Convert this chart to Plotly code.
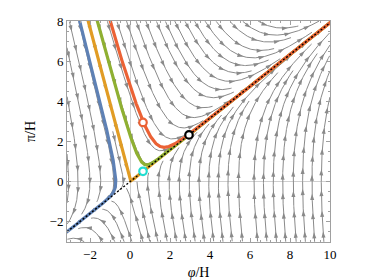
import math
import numpy as np
import plotly.graph_objects as go

# ---------------- data ----------------
PHI_RANGE = [-3.15, 10.0]
PI_RANGE = [-3.0, 8.0]
X_TICKS = [-2, 0, 2, 4, 6, 8, 10]
X_LABELS = ["\u22122", "0", "2", "4", "6", "8", "10"]
Y_TICKS = [-2, 0, 2, 4, 6, 8]
Y_LABELS = ["\u22122", "0", "2", "4", "6", "8"]

# linear flow: dphi/dN = a*phi + b*pi ; dpi/dN = c*phi + d*pi
DPHI_COEF = [0.0, 1.0]
DPI_COEF = [3.0, -3.0]

# highlighted trajectories (start points)
TRAJ_PHI0 = [-2.5, -2.1, -1.65, -1.0]
TRAJ_PI0 = [8.0, 8.0, 8.0, 8.0]
TRAJ_COLORS = ["#5E81B5", "#E19C24", "#8FB032", "#EB6235"]

# marked points
MARK_PHI = [0.65, 2.95, 0.65]
MARK_PI = [2.95, 2.33, 0.52]
MARK_COLORS = ["#EB6235", "#000000", "#22DDD0"]

GRAY = "#8a8a8a"
SERIF = "Liberation Serif"


def vel(x, y):
    return (DPHI_COEF[0] * x + DPHI_COEF[1] * y,
            DPI_COEF[0] * x + DPI_COEF[1] * y)


# ---------------- streamlines (evenly spaced) ----------------
DSEP = 0.46
DTEST = 0.22
H = 0.04
CELL = DSEP
grid = {}


def cell_of(x, y):
    return int((x - PHI_RANGE[0]) // CELL), int((y - PI_RANGE[0]) // CELL)


def too_close(x, y, d, lid=None):
    i, j = cell_of(x, y)
    for di in (-1, 0, 1):
        for dj in (-1, 0, 1):
            for (px, py, l) in grid.get((i + di, j + dj), ()):
                if l == lid:
                    continue
                if (px - x) ** 2 + (py - y) ** 2 < d * d:
                    return True
    return False


def inside(x, y):
    return PHI_RANGE[0] <= x <= PHI_RANGE[1] and PI_RANGE[0] <= y <= PI_RANGE[1]


def unit_dir(x, y, s):
    u, v = vel(x, y)
    n = math.hypot(u, v)
    if n < 1e-9:
        return None
    return s * u / n, s * v / n


def half(x0, y0, s, lid):
    pts = []
    x, y = x0, y0
    for _ in range(3000):
        d1 = unit_dir(x, y, s)
        if d1 is None:
            break
        d2 = unit_dir(x + 0.5 * H * d1[0], y + 0.5 * H * d1[1], s)
        if d2 is None:
            break
        xn, yn = x + H * d2[0], y + H * d2[1]
        if not inside(xn, yn) or too_close(xn, yn, DTEST, lid):
            break
        pts.append((xn, yn))
        x, y = xn, yn
    return pts


lines = []


def make_line(x, y):
    if not inside(x, y) or too_close(x, y, DSEP * 0.95):
        return None
    lid = len(lines)
    back = half(x, y, -1, lid)
    fwd = half(x, y, 1, lid)
    pts = back[::-1] + [(x, y)] + fwd
    if len(pts) < 10:
        return None
    for (px, py) in pts:
        grid.setdefault(cell_of(px, py), []).append((px, py, lid))
    lines.append(pts)
    return pts


queue = []
first = make_line(5.0, 3.0)
if first:
    queue.append(first)
seeds_grid = [(gx, gy) for gy in np.arange(PI_RANGE[1] - 0.2, PI_RANGE[0], -0.3)
              for gx in np.arange(PHI_RANGE[0] + 0.2, PHI_RANGE[1], 0.3)]
gi = 0
while True:
    while queue:
        ln = queue.pop(0)
        for k in range(0, len(ln), 3):
            px, py = ln[k]
            d = unit_dir(px, py, 1)
            if d is None:
                continue
            for sg in (1, -1):
                sx, sy = px - sg * d[1] * DSEP, py + sg * d[0] * DSEP
                nl = make_line(sx, sy)
                if nl:
                    queue.append(nl)
    found = False
    while gi < len(seeds_grid):
        nl = make_line(*seeds_grid[gi])
        gi += 1
        if nl:
            queue.append(nl)
            found = True
            break
    if not found:
        break

lx, ly = [], []
ax_, ay_, aang = [], [], []
SPACING = 1.0
for ln in lines:
    arr = np.array(ln)
    lx += list(arr[:, 0]) + [None]
    ly += list(arr[:, 1]) + [None]
    seg = np.hypot(np.diff(arr[:, 0]), np.diff(arr[:, 1]))
    s = np.concatenate([[0], np.cumsum(seg)])
    L = s[-1]
    n = max(1, int(round(L / SPACING)))
    for k in range(n):
        sk = (k + 0.5) * L / n
        px = float(np.interp(sk, s, arr[:, 0]))
        py = float(np.interp(sk, s, arr[:, 1]))
        u, v = vel(px, py)
        if math.hypot(u, v) < 1e-6:
            continue
        ax_.append(px)
        ay_.append(py)
        aang.append(math.degrees(math.atan2(u, v)))

fig = go.Figure()
fig.add_trace(go.Scatter(x=lx, y=ly, mode="lines",
                         line=dict(color=GRAY, width=1), hoverinfo="skip",
                         showlegend=False))
fig.add_trace(go.Scatter(x=ax_, y=ay_, mode="markers",
                         marker=dict(symbol="arrow", size=6.5, color=GRAY,
                                     angle=aang, line=dict(width=0)),
                         hoverinfo="skip", showlegend=False))


# ---------------- highlighted trajectories ----------------
def integrate(x0, y0):
    def f(p):
        return np.array(vel(p[0], p[1]))
    dt = 0.002
    p = np.array([x0, y0], float)
    for _ in range(40):
        k1 = f(p); k2 = f(p - 0.5 * dt * k1); k3 = f(p - 0.5 * dt * k2); k4 = f(p - dt * k3)
        p = p - dt / 6 * (k1 + 2 * k2 + 2 * k3 + k4)
    out = [p.copy()]
    for _ in range(8000):
        k1 = f(p); k2 = f(p + 0.5 * dt * k1); k3 = f(p + 0.5 * dt * k2); k4 = f(p + dt * k3)
        p = p + dt / 6 * (k1 + 2 * k2 + 2 * k3 + k4)
        out.append(p.copy())
        if abs(p[0]) > 14 or abs(p[1]) > 14:
            break
    return np.array(out)


for x0, y0, c in zip(TRAJ_PHI0, TRAJ_PI0, TRAJ_COLORS):
    tr = integrate(x0, y0)
    fig.add_trace(go.Scatter(x=tr[:, 0], y=tr[:, 1], mode="lines",
                             line=dict(color=c, width=3.2), hoverinfo="skip",
                             showlegend=False))

# unstable direction of the fixed point (attractor line)
a, b = DPHI_COEF
c_, d_ = DPI_COEF
tr_ = a + d_
det = a * d_ - b * c_
lam = (tr_ + math.sqrt(tr_ * tr_ - 4 * det)) / 2
slope = (lam - a) / b
fig.add_trace(go.Scatter(x=PHI_RANGE, y=[slope * v for v in PHI_RANGE],
                         mode="lines", line=dict(color="black", width=1.4, dash="2px,2px"),
                         hoverinfo="skip", showlegend=False))

fig.add_trace(go.Scatter(x=MARK_PHI, y=MARK_PI, mode="markers",
                         marker=dict(symbol="circle", size=7.5, color="white",
                                     line=dict(color=MARK_COLORS, width=2.2)),
                         hoverinfo="skip", showlegend=False))


def axis(rng, vals, labels, title, standoff):
    return dict(range=rng, tickmode="array", tickvals=vals, ticktext=labels,
                showgrid=False, ticks="inside", ticklen=4, tickwidth=0.8,
                tickcolor="#a0a0a0", showline=True, linecolor="#a0a0a0",
                linewidth=1, mirror="ticks", zeroline=True,
                zerolinecolor="#d0d0d0", zerolinewidth=1,
                tickfont=dict(family=SERIF, size=13, color="#000000"),
                minor=dict(dtick=0.5, ticklen=2, tickcolor="#a0a0a0", ticks="inside"),
                title=dict(text=title, standoff=standoff,
                           font=dict(family=SERIF, size=14, color="#000000")))


fig.update_layout(
    template="none",
    width=374, height=280,
    margin=dict(l=59, r=52, t=13, b=46),
    paper_bgcolor="white", plot_bgcolor="white",
    font=dict(family=SERIF, size=13, color="#000000"),
    xaxis=axis(PHI_RANGE, X_TICKS, X_LABELS, "<i>φ</i>/H", 6),
    yaxis=axis(PI_RANGE, Y_TICKS, Y_LABELS, "π/H", 10),
)

fig.write_html("out.html")
